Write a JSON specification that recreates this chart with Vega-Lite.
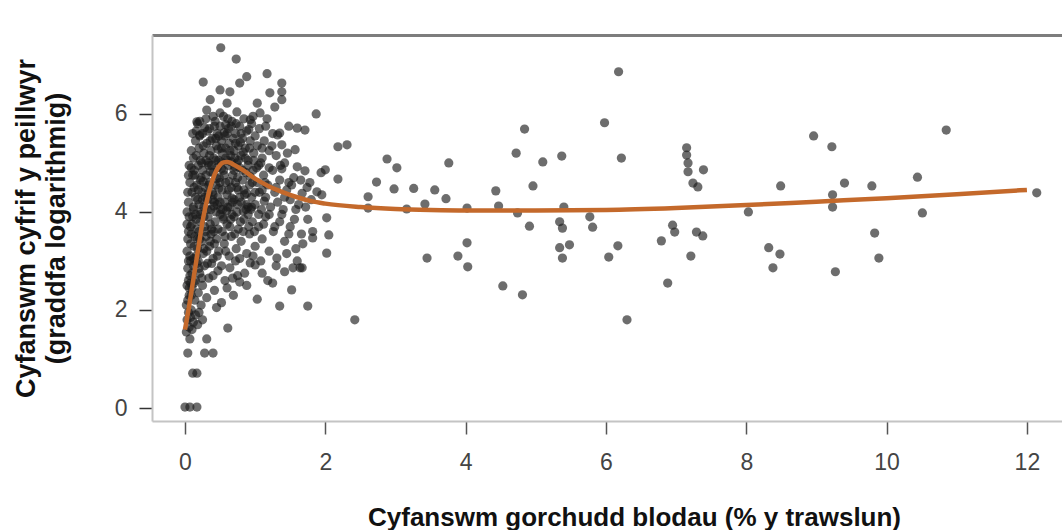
{
"$schema": "https://vega.github.io/schema/vega-lite/v6.json",
"width": 910, "height": 386,
"autosize": {"type": "none"},
"padding": {"left": 152, "top": 35, "right": 0, "bottom": 109},
"background": "white",
"config": {"view": {"stroke": null}, "font": "Liberation Sans"},
"datasets": {
"pts": [
{"x":0.51,"y":7.35},{"x":0.73,"y":7.12},{"x":0.26,"y":6.65},{"x":0.88,"y":6.76},{"x":0.78,"y":6.63},{"x":1.17,"y":6.82},{"x":1.38,"y":6.63},{"x":1.21,"y":6.43},{"x":1.38,"y":6.45},{"x":1.38,"y":6.29},{"x":1.28,"y":6.14},{"x":0.5,"y":6.49},{"x":0.64,"y":6.45},{"x":0.36,"y":6.29},{"x":0.31,"y":6.08},{"x":0.17,"y":5.84},{"x":0.21,"y":5.57},{"x":0.6,"y":6.22},{"x":0.74,"y":6.04},{"x":1.03,"y":6.22},{"x":1.07,"y":6.02},{"x":0.93,"y":5.88},{"x":0.5,"y":6.02},{"x":1.35,"y":5.61},
{"x":0.12,"y":5.1},{"x":0.15,"y":5.45},{"x":0.18,"y":5.8},{"x":0.2,"y":5.3},{"x":0.22,"y":5.05},{"x":0.25,"y":5.6},{"x":0.27,"y":5.2},{"x":0.3,"y":5.9},{"x":0.31,"y":5.4},{"x":0.33,"y":5.0},{"x":0.35,"y":5.7},{"x":0.37,"y":5.25},{"x":0.39,"y":5.5},{"x":0.41,"y":5.1},{"x":0.43,"y":5.85},{"x":0.45,"y":5.35},{"x":0.46,"y":5.6},{"x":0.48,"y":5.05},{"x":0.5,"y":5.75},{"x":0.52,"y":5.45},{"x":0.53,"y":5.2},{"x":0.55,"y":5.95},{"x":0.57,"y":5.55},{"x":0.58,"y":5.3},{"x":0.6,"y":5.05},{"x":0.62,"y":5.7},{"x":0.63,"y":5.4},{"x":0.65,"y":5.15},{"x":0.67,"y":5.85},{"x":0.69,"y":5.5},{"x":0.7,"y":5.25},{"x":0.72,"y":5.6},{"x":0.74,"y":5.0},{"x":0.76,"y":5.35},{"x":0.78,"y":5.75},{"x":0.8,"y":5.15},{"x":0.82,"y":5.5},{"x":0.84,"y":5.9},{"x":0.86,"y":5.3},{"x":0.88,"y":5.65},{"x":0.9,"y":5.05},{"x":0.93,"y":5.45},{"x":0.95,"y":5.8},{"x":0.98,"y":5.2},{"x":1.0,"y":5.55},{"x":1.03,"y":5.35},{"x":1.06,"y":5.7},{"x":1.1,"y":5.1},{"x":1.13,"y":5.45},{"x":1.17,"y":5.9},{"x":1.2,"y":5.25},{"x":1.25,"y":5.6},{"x":1.3,"y":5.15},{"x":1.32,"y":5.57},{"x":1.38,"y":5.37},{"x":1.42,"y":5.0},{"x":1.48,"y":5.75},{"x":1.57,"y":5.27},{"x":0.28,"y":5.72},{"x":0.4,"y":5.95},{"x":0.47,"y":5.28},{"x":0.56,"y":5.62},{"x":0.66,"y":5.02},{"x":0.73,"y":5.8},{"x":0.79,"y":5.42},{"x":0.91,"y":5.68},{"x":0.35,"y":5.15},{"x":0.44,"y":5.5},{"x":0.61,"y":5.9},{"x":0.71,"y":5.1},{"x":0.16,"y":5.65},{"x":0.24,"y":5.0},{"x":1.08,"y":5.0},{"x":1.15,"y":5.75},{"x":0.97,"y":5.95},{"x":0.52,"y":5.02},{"x":0.83,"y":5.22},{"x":0.58,"y":5.78},{"x":0.21,"y":5.55},
{"x":0.05,"y":4.2},{"x":0.07,"y":4.6},{"x":0.09,"y":4.9},{"x":0.1,"y":4.4},{"x":0.12,"y":4.05},{"x":0.14,"y":4.75},{"x":0.15,"y":4.3},{"x":0.17,"y":4.55},{"x":0.19,"y":4.95},{"x":0.2,"y":4.15},{"x":0.22,"y":4.65},{"x":0.24,"y":4.4},{"x":0.25,"y":4.85},{"x":0.27,"y":4.1},{"x":0.29,"y":4.5},{"x":0.3,"y":4.75},{"x":0.32,"y":4.25},{"x":0.34,"y":4.95},{"x":0.35,"y":4.6},{"x":0.37,"y":4.05},{"x":0.39,"y":4.4},{"x":0.4,"y":4.8},{"x":0.42,"y":4.2},{"x":0.44,"y":4.55},{"x":0.46,"y":4.9},{"x":0.47,"y":4.3},{"x":0.49,"y":4.7},{"x":0.51,"y":4.05},{"x":0.53,"y":4.45},{"x":0.55,"y":4.85},{"x":0.57,"y":4.2},{"x":0.58,"y":4.6},{"x":0.6,"y":4.35},{"x":0.62,"y":4.95},{"x":0.64,"y":4.1},{"x":0.66,"y":4.5},{"x":0.68,"y":4.75},{"x":0.7,"y":4.25},{"x":0.72,"y":4.6},{"x":0.74,"y":4.0},{"x":0.76,"y":4.45},{"x":0.78,"y":4.9},{"x":0.8,"y":4.2},{"x":0.82,"y":4.65},{"x":0.85,"y":4.35},{"x":0.87,"y":4.8},{"x":0.9,"y":4.1},{"x":0.92,"y":4.55},{"x":0.95,"y":4.3},{"x":0.97,"y":4.85},{"x":1.0,"y":4.15},{"x":1.03,"y":4.6},{"x":1.06,"y":4.4},{"x":1.09,"y":4.05},{"x":1.12,"y":4.75},{"x":1.15,"y":4.3},{"x":1.18,"y":4.55},{"x":1.22,"y":4.1},{"x":1.25,"y":4.85},{"x":1.28,"y":4.4},{"x":1.32,"y":4.2},{"x":1.35,"y":4.65},{"x":1.4,"y":4.05},{"x":1.45,"y":4.45},{"x":1.5,"y":4.25},{"x":1.55,"y":4.7},{"x":1.6,"y":4.92},{"x":1.62,"y":4.15},{"x":1.71,"y":4.84},{"x":1.74,"y":4.5},{"x":1.8,"y":4.25},{"x":0.13,"y":4.5},{"x":0.18,"y":4.25},{"x":0.26,"y":4.62},{"x":0.33,"y":4.38},{"x":0.41,"y":4.12},{"x":0.45,"y":4.68},{"x":0.52,"y":4.88},{"x":0.59,"y":4.02},{"x":0.67,"y":4.28},{"x":0.75,"y":4.7},{"x":0.83,"y":4.02},{"x":0.93,"y":4.72},{"x":1.02,"y":4.9},{"x":1.1,"y":4.45},{"x":0.06,"y":4.95},{"x":0.11,"y":4.75},{"x":0.23,"y":4.0},{"x":0.36,"y":4.82},{"x":0.48,"y":4.48},{"x":0.63,"y":4.62},{"x":0.71,"y":4.92},{"x":0.88,"y":4.38},{"x":1.13,"y":4.22},{"x":1.38,"y":4.88},{"x":1.48,"y":4.6},{"x":1.67,"y":4.38},{"x":1.95,"y":4.35},
{"x":0.03,"y":3.2},{"x":0.05,"y":3.6},{"x":0.06,"y":3.9},{"x":0.08,"y":3.35},{"x":0.1,"y":3.75},{"x":0.12,"y":3.05},{"x":0.14,"y":3.5},{"x":0.16,"y":3.85},{"x":0.18,"y":3.25},{"x":0.2,"y":3.6},{"x":0.22,"y":3.95},{"x":0.24,"y":3.4},{"x":0.26,"y":3.15},{"x":0.28,"y":3.7},{"x":0.3,"y":3.5},{"x":0.33,"y":3.9},{"x":0.35,"y":3.3},{"x":0.38,"y":3.65},{"x":0.4,"y":3.05},{"x":0.43,"y":3.8},{"x":0.45,"y":3.45},{"x":0.48,"y":3.2},{"x":0.5,"y":3.95},{"x":0.53,"y":3.6},{"x":0.56,"y":3.35},{"x":0.6,"y":3.75},{"x":0.63,"y":3.1},{"x":0.66,"y":3.5},{"x":0.7,"y":3.9},{"x":0.73,"y":3.25},{"x":0.76,"y":3.65},{"x":0.8,"y":3.4},{"x":0.84,"y":3.85},{"x":0.88,"y":3.15},{"x":0.92,"y":3.55},{"x":0.96,"y":3.8},{"x":1.0,"y":3.3},{"x":1.05,"y":3.7},{"x":1.1,"y":3.45},{"x":1.15,"y":3.9},{"x":1.2,"y":3.2},{"x":1.26,"y":3.6},{"x":1.31,"y":3.06},{"x":1.35,"y":3.8},{"x":1.42,"y":3.4},{"x":1.5,"y":3.7},{"x":1.58,"y":3.25},{"x":1.66,"y":3.55},{"x":1.75,"y":3.85},{"x":1.82,"y":3.6},{"x":0.04,"y":3.45},{"x":0.07,"y":3.1},{"x":0.09,"y":3.55},{"x":0.11,"y":3.9},{"x":0.13,"y":3.3},{"x":0.17,"y":3.65},{"x":0.19,"y":3.0},{"x":0.21,"y":3.45},{"x":0.27,"y":3.9},{"x":0.31,"y":3.2},{"x":0.37,"y":3.55},{"x":0.42,"y":3.35},{"x":0.55,"y":3.85},{"x":0.65,"y":3.85},{"x":0.78,"y":3.05},{"x":0.9,"y":3.95},
{"x":0.02,"y":2.1},{"x":0.03,"y":2.5},{"x":0.04,"y":2.85},{"x":0.06,"y":2.3},{"x":0.07,"y":2.7},{"x":0.09,"y":2.0},{"x":0.1,"y":2.45},{"x":0.12,"y":2.9},{"x":0.14,"y":2.2},{"x":0.15,"y":2.6},{"x":0.17,"y":2.95},{"x":0.19,"y":2.35},{"x":0.21,"y":2.75},{"x":0.23,"y":2.1},{"x":0.25,"y":2.5},{"x":0.28,"y":2.9},{"x":0.31,"y":2.25},{"x":0.34,"y":2.65},{"x":0.38,"y":2.95},{"x":0.42,"y":2.4},{"x":0.47,"y":2.8},{"x":0.52,"y":2.15},{"x":0.57,"y":2.6},{"x":0.64,"y":2.86},{"x":0.69,"y":2.3},{"x":0.75,"y":2.7},{"x":0.78,"y":2.57},{"x":0.88,"y":2.5},{"x":0.93,"y":2.96},{"x":1.0,"y":2.92},{"x":1.03,"y":2.22},{"x":1.1,"y":2.75},{"x":1.25,"y":2.55},{"x":1.35,"y":2.08},{"x":1.42,"y":2.78},{"x":1.52,"y":2.41},{"x":1.54,"y":2.86},{"x":1.64,"y":2.86},{"x":0.45,"y":2.05},{"x":0.6,"y":2.45},
{"x":0.02,"y":1.55},{"x":0.03,"y":1.8},{"x":0.05,"y":1.95},{"x":0.06,"y":1.65},{"x":0.08,"y":1.85},{"x":0.1,"y":1.6},{"x":0.12,"y":1.75},{"x":0.15,"y":1.9},{"x":0.18,"y":1.7},{"x":0.2,"y":1.95},{"x":0.25,"y":1.8},{"x":0.61,"y":1.63},
{"x":0.07,"y":1.41},{"x":0.31,"y":1.41},{"x":0.04,"y":1.12},{"x":0.28,"y":1.12},{"x":0.4,"y":1.12},{"x":0.11,"y":0.71},{"x":0.17,"y":0.71},{"x":0.0,"y":0.02},{"x":0.07,"y":0.02},{"x":0.17,"y":0.02},
{"x":0.09,"y":5.25},{"x":0.11,"y":5.6},{"x":0.13,"y":4.85},{"x":0.16,"y":5.15},{"x":0.19,"y":4.45},{"x":0.21,"y":5.85},{"x":0.23,"y":4.7},{"x":0.26,"y":5.35},{"x":0.28,"y":4.3},{"x":0.3,"y":5.05},{"x":0.32,"y":5.65},{"x":0.34,"y":4.55},{"x":0.36,"y":5.45},{"x":0.38,"y":4.95},{"x":0.4,"y":4.35},{"x":0.42,"y":5.75},{"x":0.44,"y":5.05},{"x":0.46,"y":4.15},{"x":0.48,"y":5.55},{"x":0.5,"y":4.6},{"x":0.52,"y":5.3},{"x":0.54,"y":4.05},{"x":0.56,"y":4.75},{"x":0.58,"y":5.1},{"x":0.6,"y":5.6},{"x":0.62,"y":4.45},{"x":0.64,"y":5.25},{"x":0.66,"y":5.75},{"x":0.68,"y":4.2},{"x":0.7,"y":4.85},{"x":0.72,"y":5.4},{"x":0.74,"y":4.5},{"x":0.76,"y":5.05},{"x":0.78,"y":4.3},{"x":0.8,"y":5.6},{"x":0.82,"y":4.85},{"x":0.84,"y":4.45},{"x":0.86,"y":5.1},{"x":0.88,"y":4.15},{"x":0.9,"y":4.95},{"x":0.92,"y":5.3},{"x":0.94,"y":4.05},{"x":0.96,"y":4.6},{"x":0.98,"y":5.05},{"x":1.0,"y":4.4},
{"x":0.08,"y":3.7},{"x":0.12,"y":4.1},{"x":0.15,"y":3.95},{"x":0.18,"y":3.45},{"x":0.22,"y":3.8},{"x":0.25,"y":4.25},{"x":0.29,"y":3.6},{"x":0.32,"y":4.05},{"x":0.36,"y":3.75},{"x":0.39,"y":4.25},{"x":0.41,"y":3.6},{"x":0.44,"y":4.0},{"x":0.47,"y":3.65},{"x":0.5,"y":4.2},{"x":0.54,"y":3.9},{"x":0.57,"y":3.5},{"x":0.61,"y":4.1},{"x":0.64,"y":3.7},{"x":0.67,"y":3.95},{"x":0.71,"y":3.55},{"x":0.75,"y":4.15},{"x":0.79,"y":3.8},{"x":0.83,"y":3.6},{"x":0.87,"y":4.05},{"x":0.91,"y":3.7},{"x":0.95,"y":4.1},{"x":0.99,"y":3.6},
{"x":0.05,"y":2.6},{"x":0.08,"y":3.0},{"x":0.1,"y":2.75},{"x":0.13,"y":2.55},{"x":0.16,"y":3.1},{"x":0.2,"y":2.85},{"x":0.24,"y":2.65},{"x":0.27,"y":3.25},{"x":0.32,"y":2.95},{"x":0.36,"y":3.4},{"x":0.4,"y":2.7},{"x":0.46,"y":3.1},{"x":0.52,"y":2.9},{"x":0.58,"y":3.2},{"x":0.68,"y":2.65},{"x":0.72,"y":3.0},{"x":0.85,"y":2.75},{"x":0.97,"y":3.1},{"x":1.08,"y":3.0},{"x":1.18,"y":2.6},{"x":1.3,"y":2.9},{"x":1.45,"y":3.15},{"x":1.6,"y":3.0},
{"x":1.05,"y":4.95},{"x":1.1,"y":5.3},{"x":1.14,"y":4.6},{"x":1.2,"y":4.9},{"x":1.24,"y":5.35},{"x":1.3,"y":4.5},{"x":1.36,"y":4.95},{"x":1.42,"y":4.3},{"x":1.46,"y":5.2},{"x":1.52,"y":4.55},{"x":1.58,"y":4.05},{"x":1.65,"y":4.65},{"x":1.72,"y":4.1},{"x":1.78,"y":4.6},{"x":1.2,"y":3.95},{"x":1.28,"y":3.7},{"x":1.38,"y":3.95},{"x":1.48,"y":3.55},{"x":1.56,"y":3.85},{"x":1.68,"y":3.35},{"x":1.05,"y":3.95},{"x":1.12,"y":3.75},
{"x":0.03,"y":4.0},{"x":0.04,"y":4.4},{"x":0.05,"y":4.75},{"x":0.03,"y":3.75},{"x":0.05,"y":3.0},{"x":0.06,"y":2.45},{"x":0.04,"y":2.2},{"x":0.08,"y":2.55},{"x":0.09,"y":2.3},
{"x":1.87,"y":6.0},{"x":1.71,"y":5.67},{"x":1.6,"y":5.71},{"x":2.31,"y":5.37},{"x":2.18,"y":5.33},{"x":2.88,"y":5.08},{"x":3.02,"y":4.9},{"x":2.73,"y":4.61},{"x":2.98,"y":4.47},{"x":3.26,"y":4.48},{"x":2.61,"y":4.31},{"x":2.61,"y":4.08},{"x":2.18,"y":4.67},{"x":1.88,"y":4.41},{"x":2.0,"y":4.86},{"x":1.94,"y":4.8},{"x":2.02,"y":3.88},{"x":2.05,"y":3.53},{"x":1.82,"y":3.47},{"x":2.02,"y":3.16},{"x":1.67,"y":2.86},{"x":1.75,"y":2.08},{"x":2.42,"y":1.8},
{"x":6.18,"y":6.86},{"x":5.98,"y":5.82},{"x":4.84,"y":5.69},{"x":4.72,"y":5.2},{"x":5.1,"y":5.02},{"x":5.37,"y":5.14},{"x":6.22,"y":5.1},{"x":3.76,"y":5.0},{"x":4.96,"y":4.53},{"x":4.43,"y":4.43},{"x":3.56,"y":4.45},{"x":3.72,"y":4.27},{"x":3.42,"y":4.16},{"x":3.16,"y":4.06},{"x":4.02,"y":4.08},{"x":4.47,"y":4.12},{"x":4.74,"y":3.98},{"x":5.4,"y":4.1},{"x":7.15,"y":5.31},{"x":7.15,"y":5.16},{"x":7.17,"y":5.0},{"x":7.17,"y":4.82},{"x":7.24,"y":4.59},{"x":7.31,"y":4.51},{"x":7.39,"y":4.86},{"x":4.91,"y":3.71},{"x":5.34,"y":3.8},{"x":5.38,"y":3.67},{"x":5.77,"y":3.9},{"x":5.81,"y":3.69},{"x":6.95,"y":3.73},{"x":6.98,"y":3.59},{"x":7.29,"y":3.59},{"x":7.38,"y":3.51},{"x":4.02,"y":3.37},{"x":6.79,"y":3.41},{"x":5.48,"y":3.33},{"x":5.34,"y":3.27},{"x":6.17,"y":3.31},{"x":3.45,"y":3.06},{"x":3.89,"y":3.1},{"x":4.03,"y":2.88},{"x":5.38,"y":3.06},{"x":6.04,"y":3.08},{"x":7.21,"y":3.1},{"x":4.53,"y":2.49},{"x":4.81,"y":2.31},{"x":6.88,"y":2.55},{"x":6.3,"y":1.8},
{"x":8.96,"y":5.55},{"x":9.22,"y":5.33},{"x":10.85,"y":5.67},{"x":8.49,"y":4.53},{"x":9.4,"y":4.59},{"x":9.79,"y":4.53},{"x":10.44,"y":4.71},{"x":9.23,"y":4.35},{"x":9.23,"y":4.1},{"x":8.03,"y":4.0},{"x":10.51,"y":3.98},{"x":12.14,"y":4.39},{"x":9.83,"y":3.57},{"x":8.32,"y":3.27},{"x":8.48,"y":3.14},{"x":8.38,"y":2.86},{"x":9.89,"y":3.06},{"x":9.27,"y":2.78}
],
"fit": [
{"x":0,"y":1.6},{"x":0.05,"y":2.0},{"x":0.1,"y":2.45},{"x":0.15,"y":2.9},{"x":0.2,"y":3.35},{"x":0.25,"y":3.8},{"x":0.3,"y":4.15},{"x":0.35,"y":4.45},{"x":0.4,"y":4.68},{"x":0.45,"y":4.85},{"x":0.5,"y":4.96},{"x":0.55,"y":5.01},{"x":0.6,"y":5.02},{"x":0.65,"y":5.0},{"x":0.7,"y":4.96},{"x":0.8,"y":4.88},{"x":0.9,"y":4.78},{"x":1.0,"y":4.68},{"x":1.2,"y":4.52},{"x":1.4,"y":4.4},{"x":1.6,"y":4.3},{"x":1.8,"y":4.22},{"x":2.0,"y":4.17},{"x":2.5,"y":4.1},{"x":3.0,"y":4.06},{"x":3.5,"y":4.04},{"x":4,"y":4.03},{"x":5,"y":4.03},{"x":6,"y":4.04},{"x":7,"y":4.08},{"x":8,"y":4.14},{"x":9,"y":4.21},{"x":10,"y":4.28},{"x":11,"y":4.36},{"x":12,"y":4.45}
]
},
"layer": [
{
"data": {"name": "pts"},
"mark": {"type": "point", "shape": "circle", "filled": true, "color": "#1a1a1a", "opacity": 0.64, "size": 85, "strokeWidth": 0},
"encoding": {
"x": {"field": "x", "type": "quantitative", "scale": {"domain": [-0.47, 12.5], "nice": false, "zero": false},
"axis": {"orient": "bottom", "values": [0,2,4,6,8,10,12], "grid": false, "domainColor": "#c4c4c4", "domainWidth": 2, "tickColor": "#555", "tickSize": 13, "tickWidth": 1.5, "labelFontSize": 23, "labelColor": "#444", "labelPadding": 17, "labelFlush": false, "title": "Cyfanswm gorchudd blodau (% y trawslun)", "titleFontSize": 26, "titleFontWeight": "bold", "titleColor": "#111", "titleX": 482, "titleY": 104, "titleBaseline": "alphabetic"}},
"y": {"field": "y", "type": "quantitative", "scale": {"domain": [-0.265, 7.61], "nice": false, "zero": false},
"axis": {"values": [0,2,4,6], "grid": false, "domainColor": "#c4c4c4", "domainWidth": 2, "tickColor": "#333", "tickSize": 13, "tickWidth": 1.5, "labelFontSize": 23, "labelColor": "#444", "labelPadding": 12, "title": ["Cyfanswm cyfrif y peillwyr", "(graddfa logarithmig)"], "titleFontSize": 27, "titleFontWeight": "bold", "titleColor": "#111", "titleLineHeight": 30, "titlePadding": 44}}
}
},
{
"data": {"name": "fit"},
"mark": {"type": "line", "color": "#c4692b", "strokeWidth": 4.5, "interpolate": "monotone"},
"encoding": {
"x": {"field": "x", "type": "quantitative", "axis": {"orient": "top", "labels": false, "ticks": false, "title": null, "grid": false, "domainColor": "#7d7d7d", "domainWidth": 3}},
"y": {"field": "y", "type": "quantitative"}
}
}
],
"resolve": {"axis": {"x": "independent"}}
}
